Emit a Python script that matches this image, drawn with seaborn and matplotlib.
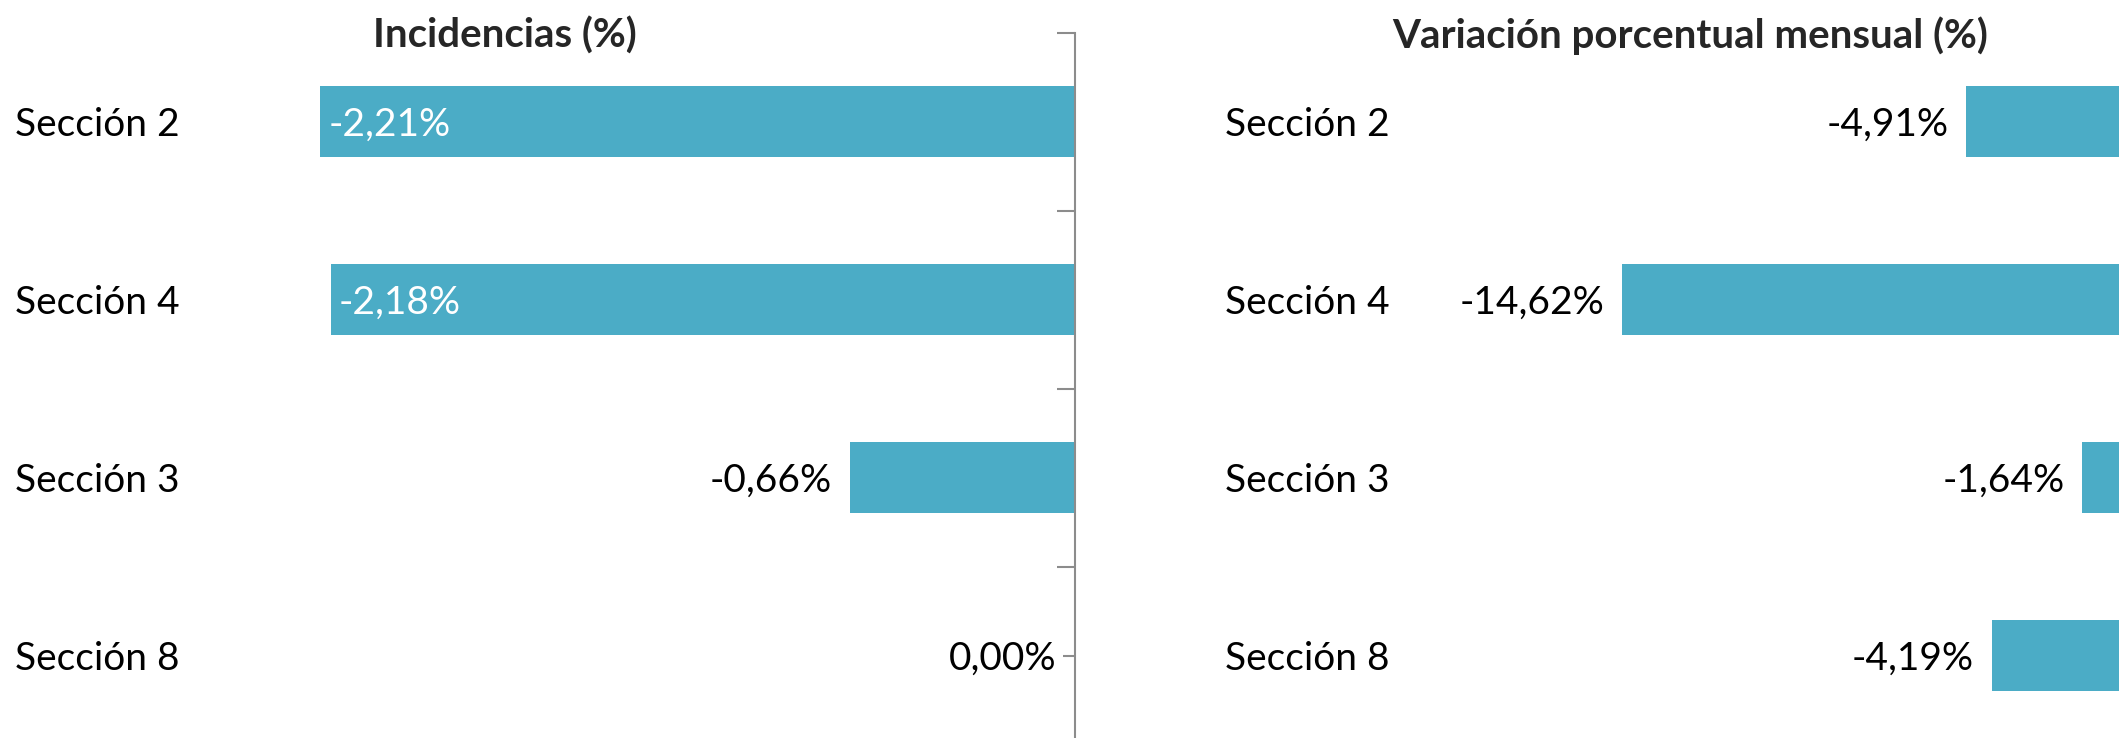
import matplotlib
matplotlib.use('Agg')
import matplotlib.pyplot as plt
import seaborn as sns
import pandas as pd


secciones = ['Sección 2', 'Sección 4', 'Sección 3', 'Sección 8']
incidencias = [-2.21, -2.18, -0.66, 0.00]
variacion = [-4.91, -14.62, -1.64, -4.19]

titulo_izq = 'Incidencias (%)'
titulo_der = 'Variación porcentual mensual (%)'

AZUL = '#4BACC6'
GRIS = '#8c8c8c'
W, H = 2119, 738

sns.set_theme(style='white')
plt.rcParams['font.family'] = ['Lato', 'DejaVu Sans']


def rect(x0, y0, x1, y1):
    # pixel box (top-left origin) -> figure fraction
    return [x0 / W, 1 - y1 / H, (x1 - x0) / W, (y1 - y0) / H]


def fmt(v):
    return f'{v:.2f}'.replace('.', ',') + '%'


def panel(ax, df, col, px_per_unit, zero_px, left_px, inside_min=None):
    sns.barplot(data=df, x=col, y='seccion', orient='h', color=AZUL, saturation=1,
                width=0.4, errorbar=None, linewidth=0, ax=ax)
    n = len(df)
    ax.set_xlim(-(zero_px - left_px) / px_per_unit, 0)
    ax.set_ylim(n - 0.5, -0.5)
    ax.set_xlabel('')
    ax.set_ylabel('')
    ax.set_xticks([])

    # category boundaries -> major ticks, centres -> minor ticks + labels
    ax.set_yticks([i - 0.5 for i in range(n + 1)])
    ax.set_yticklabels([])
    ax.set_yticks(range(n), minor=True)
    ax.set_yticklabels(df['seccion'], minor=True)
    ax.tick_params(axis='y', which='minor', left=False, right=True, direction='in',
                   length=9, width=1.5, color=GRIS, labelleft=True, labelsize=28,
                   pad=15, labelcolor='black')
    ax.tick_params(axis='y', which='major', left=False, right=True, direction='in',
                   length=13, width=1.5, color=GRIS, labelleft=False)

    for s in ['top', 'left', 'bottom']:
        ax.spines[s].set_visible(False)
    ax.spines['right'].set_color(GRIS)
    ax.spines['right'].set_linewidth(1.5)

    for i, v in enumerate(df[col]):
        if inside_min is not None and abs(v) >= inside_min:
            ax.annotate(fmt(v), (v, i), xytext=(8, 0), textcoords='offset pixels',
                        ha='left', va='center_baseline', fontsize=28, color='white')
        else:
            ax.annotate(fmt(v), (v, i), xytext=(-18, 0), textcoords='offset pixels',
                        ha='right', va='center_baseline', fontsize=28, color='black')


df = pd.DataFrame({'seccion': secciones, 'incidencias': incidencias, 'variacion': variacion})

fig = plt.figure(figsize=(W / 100, H / 100), dpi=100)
top, bottom = 32.7, 744.7

ax1 = fig.add_axes(rect(200, top, 1075, bottom))
panel(ax1, df, 'incidencias', 341.5, 1075, 200, inside_min=1.0)

ax2 = fig.add_axes(rect(1410, top, 2140.5, bottom))
panel(ax2, df, 'variacion', 35.44, 2140.5, 1410)
ax2.spines['right'].set_visible(False)
ax2.tick_params(axis='y', which='both', right=False)

fig.text(504.5 / W, 1 - 48 / H, titulo_izq, ha='center', va='baseline',
         fontsize=29, fontweight='bold')
fig.text(1690.5 / W, 1 - 48 / H, titulo_der, ha='center', va='baseline',
         fontsize=29, fontweight='bold')

fig.savefig('out.png', dpi=100)
